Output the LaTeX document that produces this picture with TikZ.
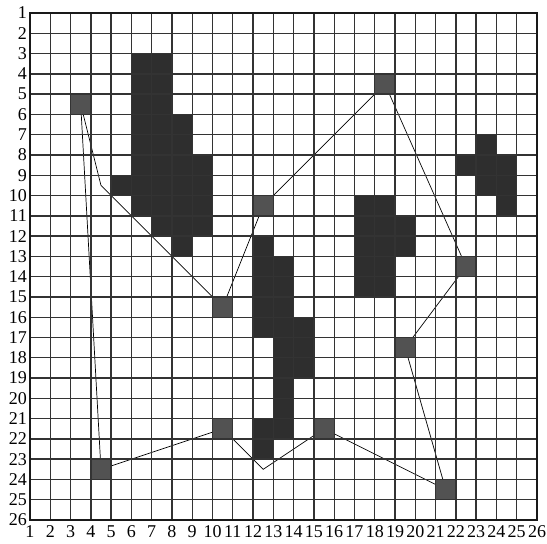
\documentclass[tikz,border=0pt]{standalone}
\usepackage{fontspec}
\setmainfont{Liberation Serif}
\begin{document}
\begin{tikzpicture}[x=20.28pt,y=-20.28pt,
  obst/.style={fill=black!82},
  visit/.style={fill=black!68, draw=none, minimum size=20.28pt, inner sep=0pt, outer sep=0pt},
  gridline/.style={line width=1.4pt, draw=black!80},
  frame/.style={line width=2.2pt, draw=black!90},
  route/.style={line width=0.7pt, draw=black},
  lab/.style={font=\fontsize{18}{18}\selectfont, inner sep=0pt}]
\fill[white] (-0.479,0.359) rectangle (26.493,27.134);
\useasboundingbox (-0.479,0.359) rectangle (26.493,27.134);
% route vertices
\coordinate (v1) at (3.5,5.5);
\coordinate (v2) at (4.5,9.5);
\coordinate (v3) at (10.5,15.5);
\coordinate (v4) at (12.5,10.5);
\coordinate (v5) at (18.5,4.5);
\coordinate (v6) at (22.5,13.5);
\coordinate (v7) at (19.5,17.5);
\coordinate (v8) at (21.5,24.5);
\coordinate (v9) at (15.5,21.5);
\coordinate (v10) at (12.5,23.5);
\coordinate (v11) at (10.5,21.5);
\coordinate (v12) at (4.5,23.5);
\draw[route] (v1) -- (v2) -- (v3) -- (v4) -- (v5) -- (v6) -- (v7) -- (v8) -- (v9) -- (v10) -- (v11) -- (v12) -- cycle;
% obstacles
\fill[obst] (6,3) rectangle (8,6);
\fill[obst] (6,6) rectangle (9,8);
\fill[obst] (6,8) rectangle (10,9);
\fill[obst] (5,9) rectangle (10,10);
\fill[obst] (6,10) rectangle (10,11);
\fill[obst] (7,11) rectangle (10,12);
\fill[obst] (8,12) rectangle (9,13);
\fill[obst] (12,12) rectangle (13,13);
\fill[obst] (12,13) rectangle (14,16);
\fill[obst] (12,16) rectangle (15,17);
\fill[obst] (13,17) rectangle (15,19);
\fill[obst] (13,19) rectangle (14,21);
\fill[obst] (12,21) rectangle (14,22);
\fill[obst] (12,22) rectangle (13,23);
\fill[obst] (17,10) rectangle (19,11);
\fill[obst] (17,11) rectangle (20,13);
\fill[obst] (17,13) rectangle (19,15);
\fill[obst] (23,7) rectangle (24,8);
\fill[obst] (22,8) rectangle (25,9);
\fill[obst] (23,9) rectangle (25,10);
\fill[obst] (24,10) rectangle (25,11);
% visited cells
\node[visit] (c1) at (v1) {};
\node[visit] (c3) at (v3) {};
\node[visit] (c4) at (v4) {};
\node[visit] (c5) at (v5) {};
\node[visit] (c6) at (v6) {};
\node[visit] (c7) at (v7) {};
\node[visit] (c8) at (v8) {};
\node[visit] (c9) at (v9) {};
\node[visit] (c11) at (v11) {};
\node[visit] (c12) at (v12) {};
% grid
\foreach \i in {1,...,26} {
  \draw[gridline] (\i,1) -- (\i,26);
  \draw[gridline] (1,\i) -- (26,\i);
  \node[lab, anchor=east] (ly\i) at ([xshift=-3pt]1,\i) {\i};
  \node[lab, anchor=north] (lx\i) at ([yshift=-5pt]\i,26) {\i};
}
\draw[frame] (1,1) rectangle (26,26);
\end{tikzpicture}
\end{document}
